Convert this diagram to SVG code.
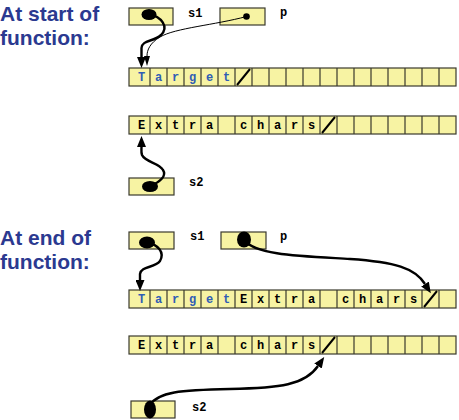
<svg xmlns="http://www.w3.org/2000/svg" width="459" height="420" viewBox="0 0 459 420">
<style>
.title{font-family:"Liberation Sans",Arial,sans-serif;font-weight:bold;font-size:21px;fill:#2B3990}
.arr{fill:#F7F3A3;stroke:#3a3a2e;stroke-width:1.2}
.div{stroke:#3a3a2e;stroke-width:1.2;fill:none}
.ch{font-family:"Liberation Mono","Courier New",monospace;font-weight:bold;font-size:12px;fill:#000;text-anchor:middle}
.blue{fill:#2F5DB5}
.lbl{font-family:"Liberation Mono","Courier New",monospace;font-weight:bold;font-size:12px;fill:#000}
.slash{stroke:#000;stroke-width:2}
.box{fill:#F7F3A3;stroke:#3a3a2e;stroke-width:1.2}
.thick{fill:none;stroke:#000;stroke-width:2.4}
.thin{fill:none;stroke:#000;stroke-width:1}
</style>
<defs>
<marker id="ah" markerUnits="userSpaceOnUse" markerWidth="11" markerHeight="9" refX="0" refY="4.5" orient="auto">
<path d="M0,0 L11,4.5 L0,9 z" fill="#000"/>
</marker>
<marker id="aht" markerUnits="userSpaceOnUse" markerWidth="10" markerHeight="6" refX="0" refY="3" orient="auto">
<path d="M0,0 L10,3 L0,6 z" fill="#000"/>
</marker>
<path id="dividers" d="M150,0v18M167,0v18M184,0v18M201,0v18M218,0v18M235,0v18M252,0v18M269,0v18M286,0v18M303,0v18M320,0v18M337,0v18M354,0v18M371,0v18M388,0v18M405,0v18M422,0v18M439,0v18"/>
</defs>

<g id="title-start">
<text class="title" x="0" y="21">At start of</text>
<text class="title" x="0" y="45">function:</text>
</g>
<g id="title-end">
<text class="title" x="0" y="245">At end of</text>
<text class="title" x="0" y="269">function:</text>
</g>

<!-- top section -->
<g id="s1-top">
<rect class="box" x="129" y="8" width="44" height="17"/>
<ellipse cx="149" cy="14.5" rx="7.5" ry="5.5" fill="#000"/>
<text class="lbl" x="188" y="17">s1</text>
</g>
<g id="p-top">
<rect class="box" x="220" y="8" width="45" height="17"/>
<circle cx="246.5" cy="16.5" r="3.3" fill="#000"/>
<text class="lbl" x="280" y="16">p</text>
</g>
<g id="target-top">
<rect class="arr" x="129" y="68" width="327" height="18"/>
<use href="#dividers" class="div" y="68"/>
<g class="ch blue">
<text x="141.5" y="80.5">T</text><text x="158.5" y="80.5">a</text><text x="175.5" y="80.5">r</text><text x="192.5" y="80.5">g</text><text x="209.5" y="80.5">e</text><text x="226.5" y="80.5">t</text>
</g>
<line class="slash" x1="237" y1="85" x2="250" y2="69"/>
</g>
<g id="extra-top">
<rect class="arr" x="129" y="116" width="327" height="18"/>
<use href="#dividers" class="div" y="116"/>
<g class="ch">
<text x="141.5" y="128.5">E</text><text x="158.5" y="128.5">x</text><text x="175.5" y="128.5">t</text><text x="192.5" y="128.5">r</text><text x="209.5" y="128.5">a</text><text x="243.5" y="128.5">c</text><text x="260.5" y="128.5">h</text><text x="277.5" y="128.5">a</text><text x="294.5" y="128.5">r</text><text x="311.5" y="128.5">s</text>
</g>
<line class="slash" x1="322" y1="133" x2="335" y2="117"/>
</g>
<g id="s2-top">
<rect class="box" x="129" y="178" width="45" height="17"/>
<ellipse cx="150" cy="186.5" rx="8" ry="5.5" fill="#000"/>
<text class="lbl" x="189" y="186">s2</text>
</g>

<!-- bottom section -->
<g id="s1-bottom">
<rect class="box" x="129" y="232" width="45" height="17"/>
<ellipse cx="147" cy="242.5" rx="8" ry="6" fill="#000"/>
<text class="lbl" x="190" y="240">s1</text>
</g>
<g id="p-bottom">
<rect class="box" x="221" y="232" width="45" height="17"/>
<ellipse cx="244" cy="239.5" rx="7" ry="8" fill="#000"/>
<text class="lbl" x="280" y="239.5">p</text>
</g>
<g id="target-bottom">
<rect class="arr" x="129" y="290" width="327" height="18"/>
<use href="#dividers" class="div" y="290"/>
<g class="ch blue">
<text x="141.5" y="302.5">T</text><text x="158.5" y="302.5">a</text><text x="175.5" y="302.5">r</text><text x="192.5" y="302.5">g</text><text x="209.5" y="302.5">e</text><text x="226.5" y="302.5">t</text>
</g>
<g class="ch">
<text x="243.5" y="302.5">E</text><text x="260.5" y="302.5">x</text><text x="277.5" y="302.5">t</text><text x="294.5" y="302.5">r</text><text x="311.5" y="302.5">a</text><text x="345.5" y="302.5">c</text><text x="362.5" y="302.5">h</text><text x="379.5" y="302.5">a</text><text x="396.5" y="302.5">r</text><text x="413.5" y="302.5">s</text>
</g>
<line class="slash" x1="424" y1="307" x2="437" y2="291"/>
</g>
<g id="extra-bottom">
<rect class="arr" x="129" y="336" width="327" height="18"/>
<use href="#dividers" class="div" y="336"/>
<g class="ch">
<text x="141.5" y="348.5">E</text><text x="158.5" y="348.5">x</text><text x="175.5" y="348.5">t</text><text x="192.5" y="348.5">r</text><text x="209.5" y="348.5">a</text><text x="243.5" y="348.5">c</text><text x="260.5" y="348.5">h</text><text x="277.5" y="348.5">a</text><text x="294.5" y="348.5">r</text><text x="311.5" y="348.5">s</text>
</g>
<line class="slash" x1="322" y1="353" x2="335" y2="337"/>
</g>
<g id="s2-bottom">
<rect class="box" x="131" y="401" width="44" height="17"/>
<ellipse cx="150" cy="409.5" rx="6" ry="9" fill="#000"/>
<text class="lbl" x="192" y="410.5">s2</text>
</g>

<g id="connectors">
<path class="thick" marker-end="url(#ah)" d="M149,14 C162,17 169,27 161,35 C153,42 142,40 141.5,48 L141.5,57"/>
<path class="thin" marker-end="url(#aht)" d="M246.5,16.5 C215,25 175,28 160,37 C150,43 147,50 147,56"/>
<path class="thick" marker-end="url(#ah)" d="M150,186 C160,182 167,176 163,170 C159,163 145,162 142,155 C141,152 141.5,150 141.5,147"/>
<path class="thick" marker-end="url(#ah)" d="M147,242 C158,245 165,252 160,261 C155,268 141,266 140,274 L140,280"/>
<path class="thick" marker-end="url(#ah)" d="M244,240 C255,255 300,256 350,259 C395,262 415,268 425,284"/>
<path class="thick" marker-end="url(#ah)" d="M150,405 C158,392 180,390 230,389 C280,388 305,385 318,366"/>
</g>
</svg>
